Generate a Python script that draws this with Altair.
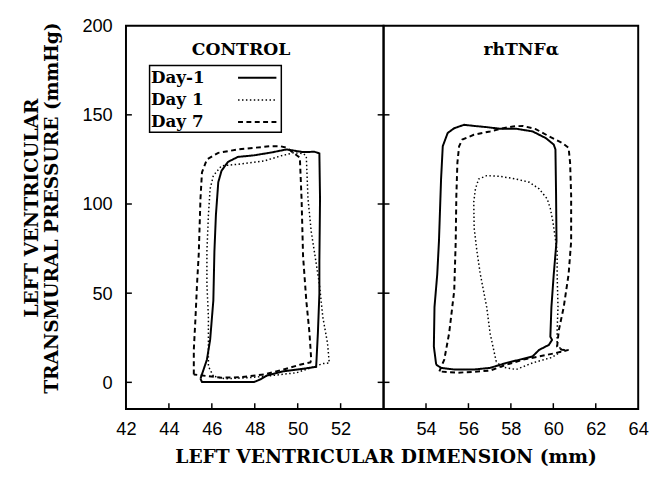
import altair as alt
import pandas as pd

# ---------------- data ----------------
Y_TICK_LABELS = [0, 50, 100, 150, 200]
Y_INNER_TICKS = [0, 50, 100, 150]
CTRL_X_LABELS = [42, 44, 46, 48, 50, 52]
CTRL_X_TICKS = [44, 46, 48, 50, 52]
TNF_X_LABELS = [54, 56, 58, 60, 62, 64]
TNF_X_TICKS = [54, 56, 58, 60, 62]

SERIES = ["Day-1", "Day 1", "Day 7"]
PANEL_TITLES = ["CONTROL", "rhTNF\u03b1"]
X_TITLE = "LEFT VENTRICULAR DIMENSION (mm)"
Y_TITLE = ["LEFT VENTRICULAR", "TRANSMURAL PRESSURE (mmHg)"]

# CONTROL panel
ctrl_dm1_x = [45.47, 45.77, 45.92, 46.07, 46.12, 46.19, 46.30, 46.45, 46.75, 47.21, 47.97, 48.73, 49.49, 50.25,
              50.78, 51.01, 51.04, 51.01, 51.01, 50.94, 50.86, 50.25, 49.34, 48.58, 48.27, 47.97, 45.54, 45.47]
ctrl_dm1_y = [2.0, 12.7, 23.8, 45.9, 73.5, 93.9, 112.2, 118.6, 123.6, 126.4, 127.3, 128.8, 130.6, 129.1,
              129.3, 128.4, 102.9, 68.0, 49.6, 27.5, 8.7, 7.6, 6.2, 3.9, 1.7, 0.2, 0.2, 2.0]
ctrl_d1_x = [46.07, 45.84, 45.84, 45.77, 45.77, 45.84, 45.92, 46.07, 46.45, 47.21, 48.43, 49.19, 49.80, 50.25,
             50.40, 50.48, 50.63, 50.81, 51.01, 51.17, 51.39, 51.47, 51.17, 49.95, 48.58, 47.67, 46.61, 46.07]
ctrl_d1_y = [3.5, 9.0, 36.6, 55.1, 73.5, 93.8, 108.5, 115.9, 121.4, 122.3, 124.1, 126.9, 128.7, 128.3,
             126.9, 102.9, 84.5, 70.7, 55.1, 36.6, 21.9, 10.9, 10.5, 5.4, 3.5, 2.6, 2.0, 3.5]
ctrl_d7_x = [45.16, 45.16, 45.24, 45.31, 45.39, 45.47, 45.54, 45.77, 46.30, 47.21, 47.97, 48.73, 49.19, 49.49,
             50.10, 50.18, 50.25, 50.40, 50.55, 50.63, 50.59, 50.10, 49.34, 48.43, 47.36, 46.45, 45.16]
ctrl_d7_y = [4.4, 18.2, 36.6, 55.1, 72.0, 102.9, 117.7, 125.0, 128.7, 130.6, 131.5, 132.4, 132.4, 131.5,
             126.0, 102.9, 70.7, 45.9, 27.5, 12.7, 11.2, 9.9, 7.2, 4.4, 2.9, 2.6, 4.4]

# rhTNF-alpha panel
tnf_dm1_x = [54.48, 54.37, 54.40, 54.53, 54.61, 54.71, 54.79, 55.02, 55.33, 55.79, 56.25, 56.86, 57.48, 58.25,
             59.02, 59.64, 60.02, 60.10, 60.13, 60.15, 60.02, 59.91, 59.86, 59.94, 59.79, 59.33, 59.02, 58.41,
             57.79, 57.02, 56.25, 55.33, 54.71, 54.48]
tnf_dm1_y = [9.9, 20.1, 42.2, 60.6, 79.0, 114.0, 132.4, 139.8, 142.5, 144.4, 143.8, 143.1, 142.2, 142.2,
             140.7, 137.0, 133.3, 130.6, 104.8, 79.0, 60.6, 42.2, 25.6, 23.8, 21.0, 18.2, 14.5, 12.7,
             10.9, 8.1, 7.2, 7.2, 8.1, 9.9]
tnf_d1_x = [57.31, 57.02, 56.86, 56.71, 56.56, 56.40, 56.27, 56.25, 56.33, 56.48, 56.86, 57.48, 58.25, 58.87,
            59.33, 59.71, 59.86, 59.98, 60.07, 60.18, 60.18, 60.22, 60.18, 60.18, 60.49, 59.94, 59.02, 58.25,
            57.60, 57.31]
tnf_d1_y = [11.6, 27.5, 42.2, 51.4, 60.6, 73.5, 86.4, 101.1, 108.5, 114.0, 115.9, 115.5, 114.0, 112.2,
            108.5, 102.9, 97.4, 90.1, 82.7, 73.5, 60.6, 42.2, 29.3, 20.1, 18.2, 14.0, 10.9, 7.2,
            8.5, 11.6]
tnf_d7_x = [54.63, 54.86, 55.09, 55.33, 55.40, 55.43, 55.48, 55.56, 55.71, 56.25, 57.02, 57.64, 58.10, 58.56,
            59.17, 59.79, 60.41, 60.72, 60.79, 60.84, 60.84, 60.72, 60.49, 60.26, 60.18, 60.41, 60.72, 60.10,
            59.33, 58.56, 57.79, 57.02, 56.25, 55.48, 54.63]
tnf_d7_y = [6.1, 12.7, 27.5, 51.4, 79.0, 104.8, 123.2, 132.4, 136.1, 138.8, 140.7, 142.5, 143.5, 143.8,
            142.0, 138.0, 134.3, 131.5, 123.2, 104.8, 79.0, 60.6, 42.2, 29.3, 20.1, 18.2, 18.2, 16.4,
            14.5, 12.7, 9.9, 6.6, 5.9, 5.4, 6.1]

# ---------------- styling ----------------
SERIF = "DejaVu Serif"
SANS = "Liberation Sans"
STYLES = {
    "Day-1": dict(strokeWidth=2.0, strokeDash=[1, 0]),
    "Day 1": dict(strokeWidth=1.5, strokeDash=[1.5, 2.5]),
    "Day 7": dict(strokeWidth=2.0, strokeDash=[5, 3.5]),
}
H = 390
W_L = 262
W_R = 259
TICK = 6


def loop_df(xs, ys):
    return pd.DataFrame({"x": xs, "y": ys, "i": list(range(len(xs)))})


def panel(curves, xdomain, xlabels, xticks, width, title, title_px, first):
    common = dict(ticks=False, tickSize=0, domain=False, grid=False, labelFont=SANS, labelFontSize=18.5,
                  labelColor="black", labelFlush=False, labelOverlap=False)
    if first:
        x_axis = alt.Axis(values=xlabels, labelPadding=11, title=X_TITLE, titleFont=SERIF, titleFontSize=19,
                          titleFontWeight="bold", titleColor="black", titleX=264, titleY=54,
                          titleAlign="center", titleBaseline="alphabetic", **common)
        yax = alt.Axis(values=Y_TICK_LABELS, labelPadding=14, title=Y_TITLE, titleFont=SERIF,
                       titleFontSize=19, titleFontWeight="bold", titleColor="black",
                       titleX=-86, titleY=185, titleAngle=270, titleAlign="center",
                       titleBaseline="bottom", titleLineHeight=20, **common)
    else:
        x_axis = alt.Axis(values=xlabels, labelPadding=11, title=None, **common)
        yax = None
    xenc = alt.X("x:Q", scale=alt.Scale(domain=xdomain, nice=False, zero=False), axis=x_axis)
    yenc = alt.Y("y:Q", scale=alt.Scale(domain=[-15, 200], nice=False, zero=False), axis=yax)

    layers = []
    for name, (xs, ys) in zip(SERIES, curves):
        st = STYLES[name]
        layers.append(
            alt.Chart(loop_df(xs, ys)).mark_line(color="black", strokeWidth=st["strokeWidth"],
                                                   strokeDash=st["strokeDash"], interpolate="linear")
            .encode(x=xenc, y=yenc, order=alt.Order("i:Q"))
        )
    ytick_df = pd.DataFrame({"y": Y_INNER_TICKS})
    layers.append(alt.Chart(ytick_df).mark_rule(color="black", strokeWidth=1.5)
                  .encode(y=yenc, x=alt.value(0), x2=alt.value(TICK)))
    if first:
        layers.append(alt.Chart(ytick_df).mark_rule(color="black", strokeWidth=1.5)
                      .encode(y=yenc, x=alt.value(width - TICK), x2=alt.value(width)))
    layers.append(alt.Chart(pd.DataFrame({"x": xticks})).mark_rule(color="black", strokeWidth=1.5)
                  .encode(x=xenc, y=alt.value(H - TICK), y2=alt.value(H)))
    layers.append(alt.Chart(pd.DataFrame({"t": [title]}))
                  .mark_text(font=SERIF, fontWeight="bold", fontSize=17.5, color="black",
                             align="center", baseline="middle")
                  .encode(text="t:N", x=alt.value(title_px), y=alt.value(25)))
    if first:
        # invisible anchor pinning the page layout (left / top extent)
        layers.append(alt.Chart(pd.DataFrame({"a": [0]})).mark_rule(color="white", strokeWidth=1)
                      .encode(x=alt.value(-118), x2=alt.value(-112), y=alt.value(-12)))
        # legend box
        layers.append(alt.Chart(pd.DataFrame({"a": [0]}))
                      .mark_rect(fill="white", stroke="black", strokeWidth=1.5)
                      .encode(x=alt.value(24), x2=alt.value(158), y=alt.value(40.5), y2=alt.value(108.5)))
        for k, name in enumerate(SERIES):
            yy = 53 + 22.5 * k
            st = STYLES[name]
            layers.append(alt.Chart(pd.DataFrame({"t": [name]}))
                          .mark_text(font=SERIF, fontWeight="bold", fontSize=17, color="black",
                                     align="left", baseline="middle")
                          .encode(text="t:N", x=alt.value(25.5), y=alt.value(yy)))
            layers.append(alt.Chart(pd.DataFrame({"t": [name]}))
                          .mark_rule(color="black", strokeWidth=st["strokeWidth"], strokeDash=st["strokeDash"])
                          .encode(x=alt.value(114), x2=alt.value(153), y=alt.value(yy)))
    return alt.layer(*layers).properties(width=width, height=H)


left = panel([(ctrl_dm1_x, ctrl_dm1_y), (ctrl_d1_x, ctrl_d1_y), (ctrl_d7_x, ctrl_d7_y)],
             [42, 54], CTRL_X_LABELS, CTRL_X_TICKS, W_L, PANEL_TITLES[0], 117, True)
right = panel([(tnf_dm1_x, tnf_dm1_y), (tnf_d1_x, tnf_d1_y), (tnf_d7_x, tnf_d7_y)],
              [52, 64], TNF_X_LABELS, TNF_X_TICKS, W_R, PANEL_TITLES[1], 140, False)

chart = (
    alt.hconcat(left, right, spacing=0, bounds="flush")
    .properties(padding={"left": 0, "top": 0, "right": 0, "bottom": 0}, background="white")
    .configure_view(stroke="black", strokeWidth=2)
)

chart.save("out.html", embed_options={"renderer": "svg", "actions": False})
